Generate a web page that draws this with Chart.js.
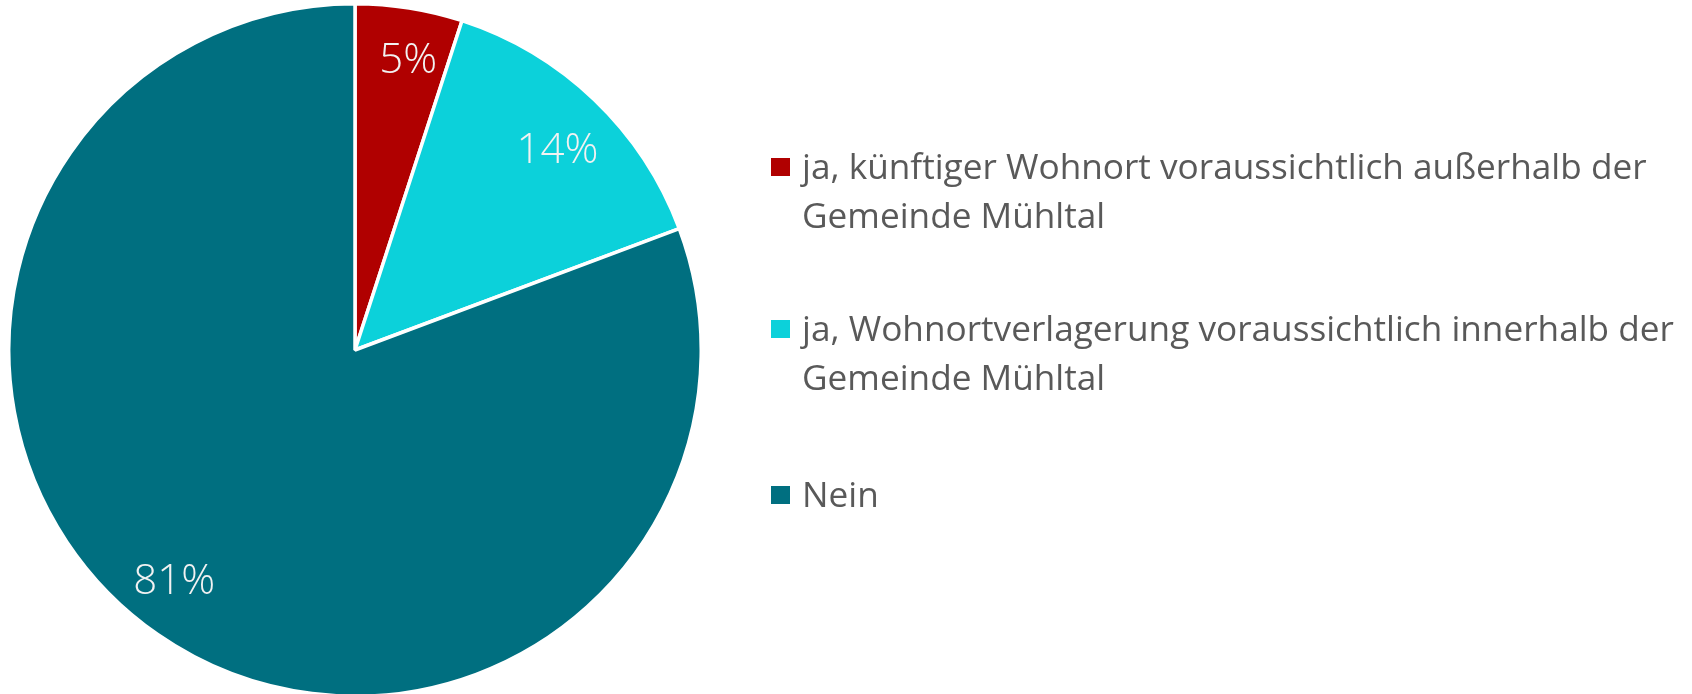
<!DOCTYPE html>
<html>
<head>
<meta charset="utf-8">
<script src="https://cdn.jsdelivr.net/npm/chart.js@4.4.1/dist/chart.umd.min.js"></script>
<style>
  html, body { margin:0; padding:0; background:#ffffff; overflow:hidden; }
  #wrap { position:relative; width:1692px; height:694px; overflow:hidden; }
  #c { position:absolute; left:0; top:0; }
  #legend { position:absolute; left:771px; top:0; font-family:"Open Sans", sans-serif; color:#595959; font-size:35.2px; }
  .item { position:absolute; left:0; white-space:nowrap; }
  .sw { position:absolute; left:0; width:19px; height:18px; }
  .txt { position:absolute; left:31px; line-height:49px; }
</style>
</head>
<body>
<div id="wrap">
  <canvas id="c" width="1692" height="698"></canvas>
  <div id="legend"></div>
</div>
<script>
const categories = [
  ["ja, künftiger Wohnort voraussichtlich außerhalb der", "Gemeinde Mühltal"],
  ["ja, Wohnortverlagerung voraussichtlich innerhalb der", "Gemeinde Mühltal"],
  ["Nein"]
];
const shares = [5, 14.3, 80.7];
const shareLabels = ["5%", "14%", "81%"];
const sliceColors = ["#B00000", "#0CD1DA", "#006F80"];

const labelPlugin = {
  id: 'sliceLabels',
  afterDatasetsDraw(chart) {
    const ctx = chart.ctx;
    const meta = chart.getDatasetMeta(0);
    const fracs = [0.85, 0.82, 0.85];
    const shifts = [0.025, 0.03, 0.055];
    ctx.save();
    ctx.fillStyle = '#F2F2F2';
    ctx.font = '300 42px "Open Sans", sans-serif';
    ctx.textAlign = 'center';
    ctx.textBaseline = 'middle';
    meta.data.forEach((arc, i) => {
      const p = arc.getProps(['x','y','startAngle','endAngle','outerRadius'], true);
      const a = (p.startAngle + p.endAngle) / 2 + shifts[i];
      const r = p.outerRadius * fracs[i];
      ctx.fillText(shareLabels[i], p.x + Math.cos(a) * r, p.y + Math.sin(a) * r);
    });
    ctx.restore();
  }
};

const chart = new Chart(document.getElementById('c'), {
  type: 'pie',
  data: {
    labels: categories,
    datasets: [{
      data: shares,
      backgroundColor: sliceColors,
      borderColor: '#ffffff',
      borderWidth: 3.5,
      hoverOffset: 0
    }]
  },
  options: {
    responsive: false,
    animation: false,
    layout: { padding: { left: 7, top: 2, bottom: 0, right: 989 } },
    plugins: { legend: { display: false }, tooltip: { enabled: false } }
  },
  plugins: [labelPlugin]
});

// HTML legend built from the chart's data
const legendTops = [142, 304, 470];
const legend = document.getElementById('legend');
categories.forEach((lines, i) => {
  const item = document.createElement('div');
  item.className = 'item';
  item.style.top = legendTops[i] + 'px';
  const sw = document.createElement('div');
  sw.className = 'sw';
  sw.style.top = '16px';
  sw.style.background = chart.data.datasets[0].backgroundColor[i];
  const txt = document.createElement('div');
  txt.className = 'txt';
  txt.style.top = '-1px';
  txt.innerHTML = lines.map(s => s.replace(/&/g,'&amp;')).join('<br>');
  item.appendChild(sw);
  item.appendChild(txt);
  legend.appendChild(item);
});
</script>
</body>
</html>
